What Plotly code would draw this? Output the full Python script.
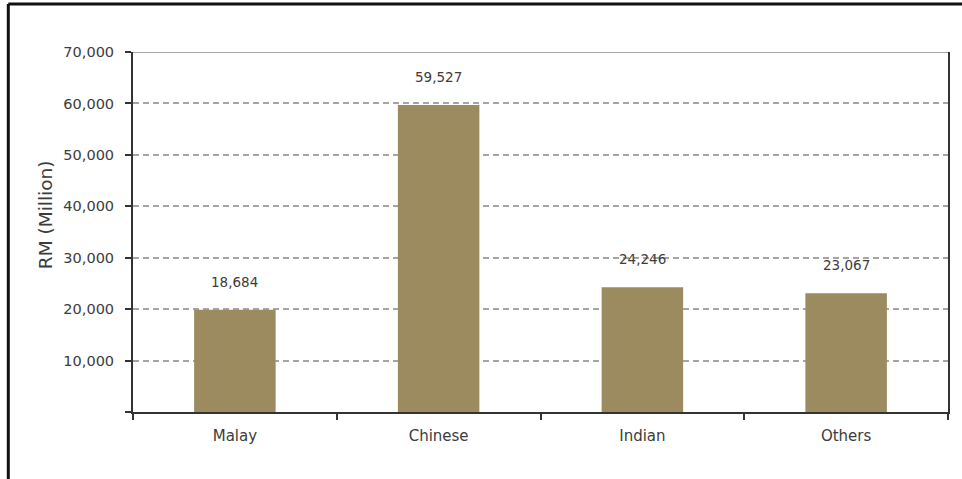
import plotly.graph_objects as go

categories = ["Malay", "Chinese", "Indian", "Others"]
bar_values = [19900, 59700, 24246, 23067]
label_texts = ["18,684", "59,527", "24,246", "23,067"]
y_tickvals = [0, 10000, 20000, 30000, 40000, 50000, 60000, 70000]
y_ticktext = ["", "10,000", "20,000", "30,000", "40,000", "50,000", "60,000", "70,000"]

FONT = "'DejaVu Sans', sans-serif"
TXT = "#3c3c3c"

fig = go.Figure()
fig.add_trace(go.Bar(
    x=categories, y=bar_values, width=0.4,
    marker=dict(color="#9b8b5f", line=dict(width=0)),
    hoverinfo="skip",
))

for c, v, t in zip(categories, bar_values, label_texts):
    fig.add_annotation(x=c, y=v, text=t, showarrow=False, yanchor="middle",
                       yshift=28, font=dict(family=FONT, size=13.5, color=TXT))

W, H = 962, 479
L, R, T, B = 133, 12, 52, 67
pw, ph = W - L - R, H - T - B

fig.add_annotation(xref="paper", yref="paper", x=(46 - L) / pw, y=(412 - 215) / ph,
                   xanchor="center", yanchor="middle",
                   text="RM (Million)", textangle=-90, showarrow=False,
                   font=dict(family=FONT, size=18.5, color=TXT))

# top line of plot area
fig.add_shape(type="line", xref="paper", yref="y", x0=0, x1=1, y0=70000, y1=70000,
              line=dict(color="#8a8a8a", width=1.5))
# image frame
fig.add_shape(type="line", xref="paper", yref="paper", x0=(8 - L) / pw, x1=(8 - L) / pw,
              y0=-(B + 5) / ph, y1=1 + (T - 4) / ph,
              line=dict(color="#111111", width=3))
fig.add_shape(type="line", xref="paper", yref="paper", x0=(8 - L) / pw, x1=(W + 5 - L) / pw,
              y0=1 + (T - 4) / ph, y1=1 + (T - 4) / ph,
              line=dict(color="#111111", width=3))

fig.update_layout(
    width=W, height=H,
    margin=dict(l=L, r=R, t=T, b=B),
    paper_bgcolor="white", plot_bgcolor="white",
    showlegend=False,
    bargap=0.6,
    font=dict(family=FONT, size=14, color=TXT),
)
fig.update_xaxes(
    showline=True, linecolor="#333333", linewidth=2, mirror=False,
    ticks="outside", tickson="boundaries", ticklen=6, tickcolor="#333333", tickwidth=1.5,
    showgrid=False, ticklabelstandoff=9,
    tickfont=dict(family=FONT, size=15, color=TXT),
)
fig.update_yaxes(
    range=[0, 70000], tickvals=y_tickvals, ticktext=y_ticktext,
    showline=True, linecolor="#333333", linewidth=2, mirror=True,
    ticks="outside", ticklen=6, tickcolor="#333333", tickwidth=1.5,
    showgrid=True, gridcolor="#a5a5a5", griddash="6px,4px", gridwidth=1.5,
    zeroline=False, ticklabelstandoff=8,
    tickfont=dict(family=FONT, size=14.5, color=TXT),
)

fig.write_html("out.html")
